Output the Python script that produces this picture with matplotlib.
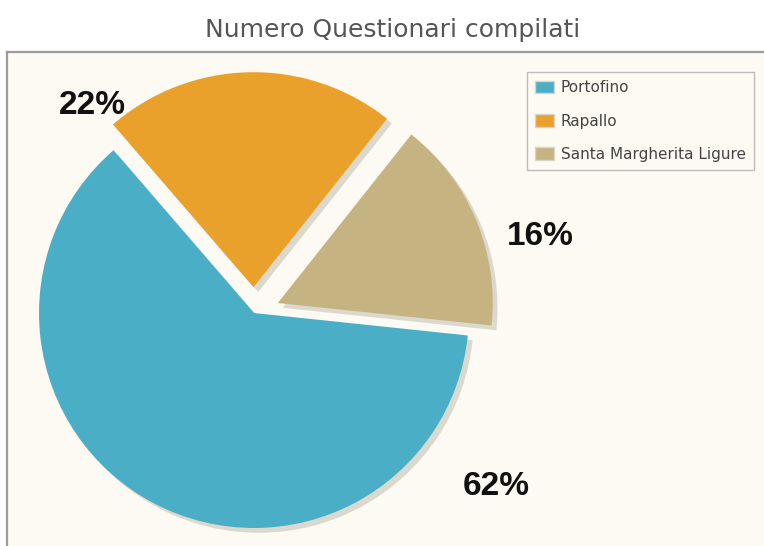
import matplotlib
matplotlib.use("Agg")
import matplotlib.pyplot as plt
import numpy as np

# dati
comuni = ["Portofino", "Rapallo", "Santa Margherita Ligure"]
percentuali = [62, 22, 16]
colori = ["#4AAFC6", "#E9A12C", "#C5B482"]
titolo = "Numero Questionari compilati"

# stile
esplodi = [0, 0.12, 0.12]
etichetta_raggio = [1.384, 1.223, 1.376]
etichetta_angolo = [-35.6, 127.8, 14.9]
sfondo = "#FDFAF3"

W, H = 764, 546
fig = plt.figure(figsize=(W / 100, H / 100), dpi=100)
fig.patch.set_facecolor("white")

# riquadro dell'area del grafico
ax_bg = fig.add_axes([7 / W, -0.1, 1.2, 1 - 52 / H + 0.1])
ax_bg.set_facecolor(sfondo)
ax_bg.set_xticks([])
ax_bg.set_yticks([])
for s in ax_bg.spines.values():
    s.set_color("#9b9b9b")
    s.set_linewidth(1.6)

# torta: centro (254, 313) px, raggio 215 px
cx, cy, R = 254, 313, 215
half = 1.5 * R
ax = fig.add_axes([(cx - half) / W, (H - cy - half) / H, 2 * half / W, 2 * half / H])
ax.set_facecolor("none")
wedges, _ = ax.pie(
    percentuali,
    colors=colori,
    startangle=-6,
    counterclock=False,
    explode=esplodi,
    radius=1,
    shadow=dict(ox=0.016, oy=-0.016, facecolor="#aaa598", edgecolor="none", alpha=0.4),
    wedgeprops=dict(linewidth=0),
)
ax.set_xlim(-1.5, 1.5)
ax.set_ylim(-1.5, 1.5)
ax.axis("off")

for v, r, a in zip(percentuali, etichetta_raggio, etichetta_angolo):
    t = np.deg2rad(a)
    ax.text(r * np.cos(t), r * np.sin(t), f"{v}%", ha="center", va="center",
            fontsize=24, fontweight="bold", family=["Liberation Sans", "DejaVu Sans"],
            color="#111111")

fig.text(393 / W, 1 - 30 / H, titolo, ha="center", va="center",
         fontsize=18, color="#555555")

leg = fig.legend(wedges, comuni, loc="upper left",
                 bbox_to_anchor=(527 / W, 1 - 72 / H), borderaxespad=0,
                 fontsize=11, frameon=True, fancybox=False, edgecolor="#bdbdbd",
                 facecolor=sfondo, framealpha=1, handlelength=1.2, handleheight=0.9,
                 labelspacing=1.2, handletextpad=0.45, borderpad=0.55)
leg.get_frame().set_linewidth(1.0)
for txt in leg.get_texts():
    txt.set_color("#444444")
for h in leg.legend_handles:
    h.set_edgecolor("#d8d4c8")
    h.set_linewidth(1.0)

fig.savefig("out.png", dpi=100)
